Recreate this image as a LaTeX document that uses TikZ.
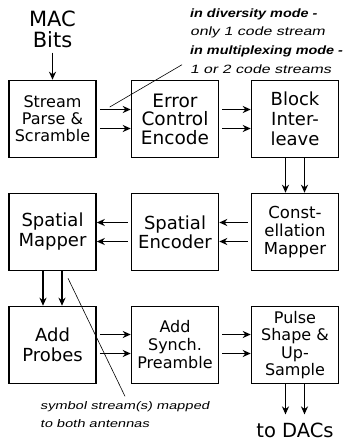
\documentclass[tikz,border=0pt]{standalone}
\usepackage{fontspec}
\setmainfont{DejaVu Sans}
\newfontface\noteit{Liberation Sans}[FakeStretch=1.33, FakeSlant=0.2]
\newfontface\notebf{Liberation Sans Bold Italic}[FakeStretch=1.2]
\usetikzlibrary{arrows.meta}

\begin{document}
\begin{tikzpicture}[x=1pt, y=-1pt]
    \tikzstyle{block} = [draw, line width=1.5pt, minimum width=87pt, minimum height=77pt, align=center, inner sep=0pt]
    \tikzstyle{flow} = [line width=1.4pt, -{Stealth[length=8pt, width=7pt, inset=2.5pt]}]
    \tikzstyle{note} = [align=left, inner sep=0pt]
    \tikzstyle{pointer} = [line width=0.6pt]

    \useasboundingbox (0,0) rectangle (344,445);

    % blocks, row by row
    \node[block, font=\fontsize{16}{17}\selectfont] (parse) at (52.5,119) {Stream\\Parse \&\\Scramble};
    \node[block, font=\fontsize{18.5}{18.5}\selectfont] (ecc) at (175,119) {Error\\Control\\Encode};
    \node[block, font=\fontsize{18}{20}\selectfont] (interleave) at (295,119) {Block\\Inter-\\leave};
    \node[block, font=\fontsize{16.5}{18}\selectfont] (consmap) at (295,232) {Const-\\ellation\\Mapper};
    \node[block, font=\fontsize{18}{19}\selectfont] (spenc) at (175,232) {Spatial\\Encoder};
    \node[block, font=\fontsize{18}{20}\selectfont] (spmap) at (52.5,232) {Spatial\\Mapper};
    \node[block, font=\fontsize{18}{19.5}\selectfont] (probes) at (52.5,345) {Add\\Probes};
    \node[block, font=\fontsize{16}{18}\selectfont] (synch) at (175,345) {Add\\Synch.\\Preamble};
    \node[block, font=\fontsize{16}{17.5}\selectfont] (pulse) at (295,345) {Pulse\\Shape \&\\Up-\\Sample};

    \node[inner sep=0pt, align=center, font=\fontsize{21}{21}\selectfont] (mac) at (52.5,29) {MAC\\Bits};
    \node[inner sep=0pt, font=\fontsize{19.5}{19.5}\selectfont] (dacs) at (295,430) {to DACs};

    % notes
    \node[note, anchor=north west, font=\fontsize{12}{18.7}\selectfont\noteit] (modenote) at (190,8.4)
        {{\notebf in diversity mode -}\\only 1 code stream\\{\notebf in multiplexing mode -}\\1 or 2 code streams};
    \node[note, anchor=north west, font=\fontsize{11}{18}\selectfont\noteit] (symnote) at (40,401.3)
        {symbol stream(s) mapped\\to both antennas};

    % data flow
    \draw[flow] ([yshift=-5pt]mac.south) -- (parse.north);
    \draw[flow] ([xshift=3pt, yshift=9.5pt]parse.east) -- ([yshift=9.5pt]ecc.west);
    \draw[flow] ([xshift=3pt, yshift=-9.5pt]parse.east) -- ([yshift=-9.5pt]ecc.west);
    \draw[flow] ([xshift=3pt, yshift=9.5pt]ecc.east) -- ([yshift=9.5pt]interleave.west);
    \draw[flow] ([xshift=3pt, yshift=-9.5pt]ecc.east) -- ([yshift=-9.5pt]interleave.west);
    \draw[flow] ([xshift=-9.5pt]interleave.south) -- ([xshift=-9.5pt]consmap.north);
    \draw[flow] ([xshift=9.5pt]interleave.south) -- ([xshift=9.5pt]consmap.north);
    \draw[flow] ([xshift=-3pt, yshift=9.5pt]consmap.west) -- ([yshift=9.5pt]spenc.east);
    \draw[flow] ([xshift=-3pt, yshift=-9.5pt]consmap.west) -- ([yshift=-9.5pt]spenc.east);
    \draw[flow] ([xshift=-3pt, yshift=9.5pt]spenc.west) -- ([yshift=9.5pt]spmap.east);
    \draw[flow] ([xshift=-3pt, yshift=-9.5pt]spenc.west) -- ([yshift=-9.5pt]spmap.east);
    \draw[flow] ([xshift=-9.5pt]spmap.south) -- ([xshift=-9.5pt]probes.north);
    \draw[flow] ([xshift=9.5pt]spmap.south) -- ([xshift=9.5pt]probes.north);
    \draw[flow] ([xshift=3pt, yshift=10.5pt]probes.east) -- ([yshift=10.5pt]synch.west);
    \draw[flow] ([xshift=3pt, yshift=-8.5pt]probes.east) -- ([yshift=-8.5pt]synch.west);
    \draw[flow] ([xshift=3pt, yshift=10.5pt]synch.east) -- ([yshift=10.5pt]pulse.west);
    \draw[flow] ([xshift=3pt, yshift=-8.5pt]synch.east) -- ([yshift=-8.5pt]pulse.west);
    \draw[flow] ([xshift=-9.5pt]pulse.south) -- ([xshift=-9.5pt, yshift=8pt]dacs.north);
    \draw[flow] ([xshift=9.5pt]pulse.south) -- ([xshift=9.5pt, yshift=8pt]dacs.north);

    % pointers to the notes
    \draw[pointer] ([xshift=13pt, yshift=12pt]parse.east) -- ([xshift=-8pt, yshift=9pt]modenote.south west);
    \draw[pointer] ([xshift=15.5pt, yshift=-7pt]spmap.south) -- ([xshift=85pt, yshift=5pt]symnote.north west);
\end{tikzpicture}
\end{document}
